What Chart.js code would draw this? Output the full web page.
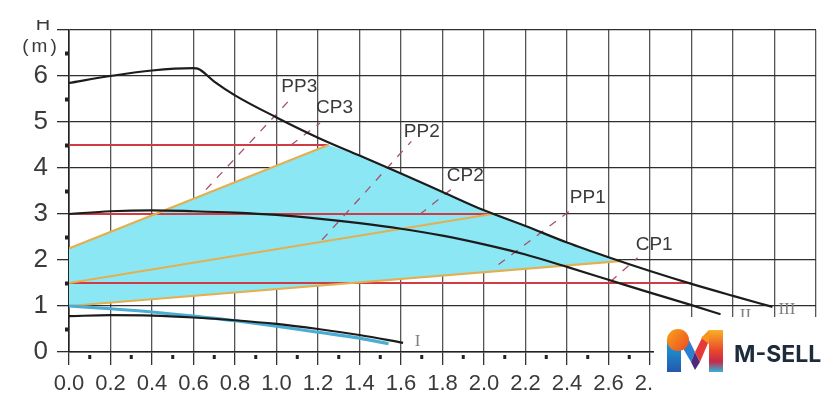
<!DOCTYPE html>
<html>
<head>
<meta charset="utf-8">
<script src="https://cdn.jsdelivr.net/npm/chart.js@4.4.1/dist/chart.umd.min.js"></script>
<style>
  html, body { margin: 0; padding: 0; background: #fff; }
  #wrap { width: 840px; height: 416px; position: relative; }
</style>
</head>
<body>
<div id="wrap"><canvas id="pumpChart"></canvas></div>
<script>
// Q (m3/h) / H (m)
const curve3Q = [0, 0.2, 0.4, 0.6, 0.62, 0.7, 0.8, 1.0, 1.2, 1.4, 1.6, 1.8, 2.0, 2.2, 2.4, 2.6, 2.8, 3.0, 3.2, 3.39];
const curve3H = [5.85, 6.0, 6.12, 6.17, 6.16, 5.88, 5.58, 5.1, 4.66, 4.27, 3.88, 3.48, 3.08, 2.74, 2.38, 2.06, 1.76, 1.48, 1.22, 0.98];

const curve2Q = [0, 0.2, 0.4, 0.6, 0.8, 1.0, 1.2, 1.4, 1.6, 1.8, 2.0, 2.2, 2.4, 2.6, 2.8, 3.0, 3.14];
const curve2H = [3.0, 3.06, 3.08, 3.06, 3.03, 2.98, 2.9, 2.8, 2.68, 2.53, 2.34, 2.12, 1.85, 1.57, 1.29, 1.02, 0.82];

const curve1Q = [0, 0.2, 0.4, 0.6, 0.8, 1.0, 1.2, 1.4, 1.61];
const curve1H = [0.78, 0.8, 0.79, 0.75, 0.69, 0.61, 0.5, 0.37, 0.2];

const blueQ = [0, 0.2, 0.4, 0.6, 0.8, 1.0, 1.2, 1.4, 1.54];
const blueH = [1.0, 0.94, 0.87, 0.78, 0.68, 0.56, 0.43, 0.3, 0.18];

// constant pressure (red) levels
const redH = [4.5, 3.0, 1.5];
const redEndQ = [1.25, 2.04, 3.0];

// CP1, CP2, CP3 (yellow)
const cpStartH = [1.0, 1.5, 2.25];
const cpEndQ = [2.67, 2.04, 1.25];
const cpEndH = [1.98, 3.0, 4.5];

// PP1, PP2, PP3 dashed
const ppQ0 = [2.07, 1.22, 0.66];
const ppH0 = [1.9, 2.44, 3.53];
const ppQ1 = [2.44, 1.65, 1.08];
const ppH1 = [3.16, 4.58, 5.56];

// short dashed pointers under the CP labels
const ptrQ0 = [2.61, 1.69, 1.07];
const ptrH0 = [1.53, 2.99, 4.5];
const ptrQ1 = [2.74, 1.84, 1.21];
const ptrH1 = [2.05, 3.53, 4.98];

const tagNames = ['PP3', 'CP3', 'PP2', 'CP2', 'PP1', 'CP1'];
const tagQ = [1.11, 1.28, 1.70, 1.91, 2.50, 2.82];
const tagH = [5.76, 5.32, 4.78, 3.84, 3.36, 2.33];

const speedNames = ['I', 'II', 'III'];
const speedQ = [1.68, 3.26, 3.46];
const speedH = [0.22, 0.79, 0.92];

const xTicksMax = 3.6;
const yTicksMax = 7;

const pts = (qs, hs) => qs.map((q, i) => ({ x: q, y: hs[i] }));

const NARROW = "'Liberation Sans Narrow', 'Liberation Sans', Arial, sans-serif";
const black = '#1c1c1c';
const red = '#d03c46';
const yellow = '#e2b052';
const dashCol = '#a8506e';

const datasets = [];

// index 0 : CP1 line (fill target)
cpStartH.forEach((h0, i) => {
    datasets.push({
        label: 'CP' + (i + 1),
        data: [{ x: 0, y: h0 }, { x: cpEndQ[i], y: cpEndH[i] }],
        borderColor: yellow, borderWidth: 2.2, pointRadius: 0, order: 4
    });
});

// cyan working area: CP3 line, then curve III down to CP1 end
const topQ = [0, cpEndQ[2]];
const topH = [cpStartH[2], cpEndH[2]];
curve3Q.forEach((q, i) => {
    if (q > cpEndQ[2] && q < cpEndQ[0]) { topQ.push(q); topH.push(curve3H[i]); }
});
topQ.push(cpEndQ[0]); topH.push(cpEndH[0]);
datasets.push({
    label: 'area',
    data: pts(topQ, topH),
    borderWidth: 0, pointRadius: 0,
    backgroundColor: '#8ce7f5',
    fill: { target: 0 },
    order: 10
});

redH.forEach((h, i) => {
    datasets.push({
        label: 'red' + i,
        data: [{ x: 0, y: h }, { x: redEndQ[i], y: h }],
        borderColor: red, borderWidth: 2.2, pointRadius: 0, order: 5
    });
});

ppQ0.forEach((q, i) => {
    datasets.push({
        label: 'PP' + (i + 1),
        data: [{ x: q, y: ppH0[i] }, { x: ppQ1[i], y: ppH1[i] }],
        borderColor: dashCol, borderWidth: 1.3, borderDash: [8, 8], pointRadius: 0, order: 3
    });
    datasets.push({
        label: 'ptr' + (i + 1),
        data: [{ x: ptrQ0[i], y: ptrH0[i] }, { x: ptrQ1[i], y: ptrH1[i] }],
        borderColor: dashCol, borderWidth: 1.3, borderDash: [8, 8], pointRadius: 0, order: 3
    });
});

datasets.push({
    label: 'blue', data: pts(blueQ, blueH),
    borderColor: '#4aaed4', borderWidth: 3.2, pointRadius: 0, cubicInterpolationMode: 'monotone', order: 2
});
[[curve1Q, curve1H], [curve2Q, curve2H], [curve3Q, curve3H]].forEach(([q, h], i) => {
    datasets.push({
        label: 'speed ' + speedNames[i], data: pts(q, h),
        borderColor: black, borderWidth: 2.2, pointRadius: 0,
        cubicInterpolationMode: 'monotone', order: 1
    });
});

const overlay = {
    id: 'overlay',
    afterDraw(chart) {
        const { ctx, chartArea: area } = chart;
        const x = chart.scales.x, y = chart.scales.y;
        ctx.save();

        // minor ticks
        ctx.fillStyle = '#222';
        for (let k = 1; k < xTicksMax * 10; k += 2) {
            const px = x.getPixelForValue(k / 10);
            ctx.fillRect(px - 1.5, area.bottom + 3, 3, 4);
        }
        for (let k = 1; k < yTicksMax * 2; k += 2) {
            const py = y.getPixelForValue(k / 2);
            ctx.fillRect(area.left - 4, py - 1.5, 3, 4);
        }

        // PP / CP tags
        ctx.fillStyle = '#3a3a3a';
        ctx.font = "19px 'Liberation Sans', Arial, sans-serif";
        ctx.textAlign = 'center';
        ctx.textBaseline = 'middle';
        tagNames.forEach((t, i) => {
            ctx.fillText(t, x.getPixelForValue(tagQ[i]), y.getPixelForValue(tagH[i]));
        });

        // speed labels
        ctx.fillStyle = '#808080';
        ctx.font = "17px 'Liberation Serif', serif";
        speedNames.forEach((t, i) => {
            ctx.fillText(t, x.getPixelForValue(speedQ[i]), y.getPixelForValue(speedH[i]));
        });

        // axis title
        ctx.fillStyle = '#3a3a3a';
        ctx.save();
        ctx.beginPath();
        ctx.rect(0, 20, 80, 20);
        ctx.clip();
        ctx.font = "20px " + NARROW;
        ctx.textBaseline = 'alphabetic';
        ctx.fillText('H', area.left - 26, 29.5);
        ctx.restore();
        ctx.font = "19px " + NARROW;
        ctx.letterSpacing = '3px';
        ctx.fillText('(m)', area.left - 28, y.getPixelForValue(6.63));
        ctx.letterSpacing = '0px';

        // logo block
        ctx.fillStyle = '#ffffff';
        ctx.fillRect(654, 317, 186, 99);
        const ox = 667, oy = 330;
        let g = ctx.createLinearGradient(0, oy + 8, 0, oy + 42);
        g.addColorStop(0, '#19a7dc'); g.addColorStop(1, '#2457ad');
        ctx.fillStyle = g;
        ctx.fillRect(ox, oy + 10, 14, 32);
        ctx.beginPath();
        ctx.moveTo(ox + 10, oy + 8); ctx.lineTo(ox + 21, oy + 8); ctx.lineTo(ox + 28, oy + 22);
        ctx.lineTo(ox + 24, oy + 32); ctx.closePath();
        ctx.fillStyle = '#2a7fd0'; ctx.fill();
        ctx.beginPath();
        ctx.moveTo(ox + 24, oy + 32); ctx.lineTo(ox + 28, oy + 22); ctx.lineTo(ox + 33, oy + 32);
        ctx.lineTo(ox + 28, oy + 40); ctx.closePath();
        ctx.fillStyle = '#4b2c7c'; ctx.fill();
        ctx.beginPath();
        ctx.moveTo(ox + 28, oy + 22); ctx.lineTo(ox + 36, oy + 6); ctx.lineTo(ox + 44, oy + 6);
        ctx.lineTo(ox + 33, oy + 32); ctx.closePath();
        ctx.fillStyle = '#e53a36'; ctx.fill();
        g = ctx.createLinearGradient(0, oy, 0, oy + 42);
        g.addColorStop(0, '#f9b126'); g.addColorStop(0.5, '#e8452c'); g.addColorStop(0.75, '#c62a4a'); g.addColorStop(1, '#2fb5d8');
        ctx.fillStyle = g;
        ctx.fillRect(ox + 42, oy, 14, 42);
        ctx.beginPath();
        ctx.moveTo(ox + 34, oy + 8); ctx.lineTo(ox + 42, oy); ctx.lineTo(ox + 42, oy + 14); ctx.closePath();
        ctx.fillStyle = '#f7931e'; ctx.fill();
        ctx.beginPath();
        ctx.arc(ox + 11, oy + 10, 11, 0, Math.PI * 2);
        g = ctx.createLinearGradient(ox, oy, ox + 22, oy + 20);
        g.addColorStop(0, '#f7a21b'); g.addColorStop(1, '#ee4a24');
        ctx.fillStyle = g; ctx.fill();

        ctx.fillStyle = '#1d2b3a';
        ctx.font = "bold 23px Inter, 'Liberation Sans', sans-serif";
        ctx.textAlign = 'left';
        ctx.textBaseline = 'alphabetic';
        ctx.fillText('M-SELL', 734, 362);

        ctx.restore();
    }
};

new Chart(document.getElementById('pumpChart'), {
    type: 'line',
    data: { datasets },
    options: {
        responsive: true,
        maintainAspectRatio: false,
        animation: false,
        events: [],
        layout: { padding: { top: 30, right: 24, left: 0, bottom: 0 } },
        plugins: { legend: { display: false }, tooltip: { enabled: false } },
        scales: {
            x: {
                type: 'linear', min: 0, max: xTicksMax, z: 1,
                afterFit: s => { s.height = 64; },
                grid: { color: '#555', lineWidth: 1.3, tickLength: 13, tickColor: '#333' },
                border: { color: '#222', width: 1.6 },
                ticks: {
                    stepSize: 0.2, autoSkip: false, maxRotation: 0, padding: 6,
                    color: '#3a3a3a', font: { family: NARROW, size: 22 },
                    callback: v => v.toFixed(1)
                }
            },
            y: {
                type: 'linear', min: 0, max: yTicksMax, z: 1,
                afterFit: s => { s.width = 69; },
                grid: { color: '#2e2e2e', lineWidth: 1.3, tickLength: 12, tickColor: '#2e2e2e' },
                border: { color: '#222', width: 1.6 },
                ticks: {
                    stepSize: 1, padding: 9,
                    color: '#3a3a3a', font: { family: NARROW, size: 26 },
                    callback: v => (v === yTicksMax ? '' : v)
                }
            }
        }
    },
    plugins: [overlay]
});
</script>
</body>
</html>
